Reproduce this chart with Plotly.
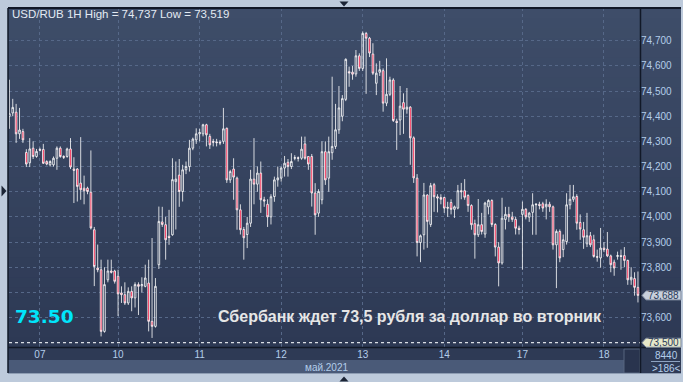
import plotly.graph_objects as go

W, H = 683, 382

# ---------------- data (USD/RUB, 1H candles) ----------------
opens = [74.40, 74.413, 74.416, 74.33, 74.339, 74.256, 74.215, 74.273, 74.24, 74.268,
         74.268, 74.22, 74.207, 74.207, 74.233, 74.273, 74.240, 74.24, 74.27, 74.19,
         74.19, 74.134, 74.114, 74.114, 74.098, 73.949, 73.797, 73.790, 73.545, 73.75,
         73.785, 73.785, 73.764, 73.698, 73.691, 73.658, 73.704, 73.678, 73.731, 73.726,
         73.724, 73.737, 73.585, 73.565, 73.810, 73.98, 73.969, 73.923, 73.929, 74.14,
         74.166, 74.101, 74.187, 74.20, 74.273, 74.306, 74.33, 74.33, 74.366, 74.32,
         74.30, 74.298, 74.296, 74.30, 74.352, 74.147, 74.19, 74.154, 74.028, 73.95,
         73.93, 73.975, 74.15, 74.13, 74.174, 74.068, 74.05, 74.0, 74.081, 74.147,
         74.154, 74.194, 74.217, 74.2, 74.233, 74.235, 74.233, 74.29, 74.24, 74.24,
         74.095, 74.015, 74.068, 74.259, 74.154, 74.255, 74.28, 74.346, 74.40, 74.467,
         74.577, 74.575, 74.568, 74.64, 74.59, 74.729, 74.71, 74.647, 74.531, 74.575,
         74.581, 74.452, 74.487, 74.544, 74.38, 74.385, 74.454, 74.428, 74.436, 74.314,
         74.154, 73.898, 73.929, 74.087, 73.97, 74.128, 74.08, 74.077, 74.077, 74.038,
         74.057, 74.03, 74.035, 74.104, 74.104, 74.085, 74.045, 73.973, 73.929, 73.969,
         73.932, 74.04, 74.065, 73.97, 73.88, 73.817, 73.99, 74.01, 74.0, 73.99,
         73.955, 74.01, 74.03, 73.999, 74.018, 74.048, 74.05, 74.052, 74.04, 74.05,
         74.04, 73.889, 73.942, 73.87, 73.902, 74.048, 74.07, 74.081, 73.978, 73.949,
         73.893, 73.925, 73.909, 73.842, 73.837, 73.876, 73.872, 73.845, 73.82, 73.843,
         73.846, 73.846, 73.827, 73.75, 73.755, 73.72]
highs = [74.545, 74.469, 74.449, 74.433, 74.35, 74.269, 74.313, 74.30, 74.27, 74.275,
         74.29, 74.225, 74.225, 74.24, 74.28, 74.28, 74.245, 74.275, 74.313, 74.237,
         74.194, 74.317, 74.164, 74.12, 74.264, 73.96, 73.89, 73.83, 73.80, 73.83,
         73.83, 73.79, 73.79, 73.724, 73.74, 73.72, 73.724, 73.74, 73.74, 73.76,
         73.81, 73.83, 73.916, 73.757, 74.041, 74.04, 74.0, 74.028, 74.233, 74.22,
         74.23, 74.207, 74.22, 74.306, 74.315, 74.352, 74.35, 74.37, 74.37, 74.33,
         74.31, 74.31, 74.305, 74.433, 74.355, 74.187, 74.233, 74.16, 74.05, 73.96,
         74.0, 74.187, 74.313, 74.2, 74.22, 74.08, 74.07, 74.09, 74.16, 74.2,
         74.2, 74.242, 74.23, 74.253, 74.245, 74.24, 74.319, 74.319, 74.24, 74.25,
         74.134, 74.11, 74.30, 74.3, 74.319, 74.557, 74.449, 74.52, 74.484, 74.63,
         74.597, 74.6, 74.663, 74.65, 74.737, 74.735, 74.715, 74.69, 74.61, 74.62,
         74.59, 74.63, 74.557, 74.551, 74.39, 74.52, 74.491, 74.512, 74.44, 74.32,
         74.17, 73.93, 74.135, 74.09, 74.135, 74.135, 74.09, 74.09, 74.08, 74.06,
         74.07, 74.045, 74.127, 74.135, 74.15, 74.09, 74.05, 73.989, 74.071, 74.016,
         74.06, 74.07, 74.07, 73.975, 73.9, 74.076, 74.04, 74.04, 74.02, 74.0,
         73.965, 74.061, 74.035, 74.02, 74.094, 74.055, 74.06, 74.06, 74.07, 74.06,
         74.045, 73.95, 73.95, 73.93, 74.094, 74.127, 74.127, 74.09, 74.01, 73.98,
         74.016, 73.94, 73.929, 73.87, 73.956, 73.9, 73.94, 73.85, 73.83, 73.862,
         73.87, 73.88, 73.83, 73.8, 73.78, 73.783]
lows = [74.35, 74.40, 74.294, 74.31, 74.294, 74.198, 74.198, 74.23, 74.235, 74.26,
        74.21, 74.205, 74.20, 74.20, 74.187, 74.235, 74.23, 74.235, 74.19, 74.055,
        74.061, 74.068, 74.05, 74.09, 73.95, 73.725, 73.78, 73.525, 73.54, 73.74,
        73.775, 73.735, 73.606, 73.658, 73.65, 73.65, 73.625, 73.64, 73.61, 73.70,
        73.72, 73.545, 73.519, 73.56, 73.793, 73.96, 73.83, 73.889, 73.925, 73.95,
        74.04, 74.061, 74.17, 74.18, 74.265, 74.29, 74.30, 74.32, 74.28, 74.27,
        74.28, 74.28, 74.285, 74.29, 74.135, 74.135, 74.068, 73.949, 73.93, 73.83,
        73.876, 73.96, 74.05, 74.1, 74.016, 74.04, 73.96, 73.97, 74.06, 74.12,
        74.14, 74.16, 74.16, 74.19, 74.225, 74.22, 74.227, 74.227, 74.187, 74.041,
        73.929, 74.0, 74.05, 74.127, 74.1, 74.227, 74.27, 74.33, 74.38, 74.46,
        74.517, 74.545, 74.557, 74.58, 74.58, 74.489, 74.635, 74.564, 74.484, 74.56,
        74.418, 74.44, 74.48, 74.377, 74.266, 74.325, 74.33, 74.41, 74.207, 74.135,
        73.843, 73.82, 73.87, 73.877, 73.96, 74.02, 74.018, 74.05, 74.016, 74.0,
        74.01, 73.996, 74.03, 74.07, 74.068, 74.02, 73.949, 73.834, 73.92, 73.93,
        73.917, 74.01, 73.96, 73.843, 73.724, 73.81, 73.95, 73.98, 73.98, 73.93,
        73.93, 73.79, 73.99, 73.98, 73.929, 73.929, 74.03, 74.02, 73.99, 74.02,
        73.87, 73.717, 73.82, 73.84, 73.89, 74.03, 74.06, 73.949, 73.909, 73.873,
        73.88, 73.88, 73.838, 73.822, 73.798, 73.86, 73.84, 73.78, 73.766, 73.83,
        73.79, 73.8, 73.73, 73.73, 73.687, 73.66]
closes = [74.41, 74.435, 74.33, 74.345, 74.306, 74.210, 74.27, 74.240, 74.26, 74.265,
          74.213, 74.21, 74.22, 74.233, 74.273, 74.240, 74.237, 74.27, 74.198, 74.185,
          74.121, 74.108, 74.104, 74.101, 73.956, 73.803, 73.79, 73.545, 73.731, 73.785,
          73.78, 73.744, 73.694, 73.691, 73.658, 73.704, 73.678, 73.731, 73.724, 73.731,
          73.757, 73.585, 73.565, 73.724, 73.982, 73.97, 73.909, 73.918, 74.148, 74.15,
          74.101, 74.187, 74.20, 74.273, 74.309, 74.33, 74.335, 74.366, 74.326, 74.286,
          74.297, 74.295, 74.294, 74.35, 74.147, 74.18, 74.158, 74.028, 73.949, 73.917,
          73.975, 74.15, 74.13, 74.174, 74.068, 74.063, 74.0, 74.08, 74.147, 74.155,
          74.194, 74.213, 74.2, 74.22, 74.235, 74.233, 74.269, 74.233, 74.21, 74.095,
          74.008, 74.101, 74.259, 74.147, 74.259, 74.28, 74.346, 74.433, 74.47, 74.626,
          74.572, 74.567, 74.64, 74.59, 74.729, 74.71, 74.651, 74.571, 74.571, 74.585,
          74.452, 74.487, 74.544, 74.383, 74.375, 74.44, 74.428, 74.436, 74.314, 74.155,
          73.898, 73.925, 74.087, 73.982, 74.124, 74.08, 74.075, 74.07, 74.035, 74.035,
          74.03, 74.04, 74.104, 74.1, 74.078, 74.045, 73.969, 73.929, 73.969, 73.942,
          74.055, 74.065, 73.97, 73.88, 73.817, 73.995, 74.01, 74.0, 73.99, 73.955,
          73.95, 74.03, 74.0, 74.015, 74.048, 74.05, 74.045, 74.035, 74.05, 74.04,
          73.889, 73.942, 73.837, 73.909, 74.048, 74.07, 74.08, 73.975, 73.952, 73.919,
          73.925, 73.889, 73.843, 73.84, 73.876, 73.87, 73.845, 73.81, 73.797, 73.846,
          73.843, 73.827, 73.75, 73.76, 73.72, 73.688]

day_labels = ["07", "10", "11", "12", "13", "14", "17", "18"]
day_start_index = [9, 32, 56, 80, 104, 128, 151, 175]
price_ticks = [73.5, 73.6, 73.7, 73.8, 73.9, 74.0, 74.1, 74.2, 74.3, 74.4, 74.5, 74.6, 74.7]
price_labels = ["", "73,600", "", "73,800", "73,900", "74,000", "74,100", "74,200",
                "74,300", "74,400", "74,500", "74,600", "74,700"]
last_price = 73.688
target_price = 73.5
title_text = "USD/RUB 1H High = 74,737 Low = 73,519"
headline = "Сбербанк ждет 73,5 рубля за доллар во вторник"
big_value = "73.50"
month_label = "май.2021"

# ---------------- helpers (pixel -> paper) ----------------
def fx(x):
    return x / W

def fy(y):
    return 1 - y / H

idx = list(range(len(opens)))
highs = [max(h, o, c) for h, o, c in zip(highs, opens, closes)]
lows = [min(l, o, c) for l, o, c in zip(lows, opens, closes)]

fig = go.Figure()
fig.add_trace(go.Candlestick(
    x=idx, open=opens, high=highs, low=lows, close=closes,
    increasing=dict(line=dict(color="#ffffff", width=0.8), fillcolor="rgba(0,0,0,0)"),
    decreasing=dict(line=dict(color="#ffffff", width=0.8), fillcolor="#f2103c"),
    whiskerwidth=0, hoverinfo="skip", showlegend=False,
))

shapes = []
# dark panel
shapes.append(dict(type="rect", xref="paper", yref="paper", x0=fx(8), x1=fx(681),
                   y0=fy(373), y1=fy(8), fillcolor="#2e3a55", line=dict(width=0), layer="below"))
# vertical gradient of chart background
top_c = (62, 77, 105)
bot_c = (45, 57, 84)
nb = 34
for k in range(nb):
    t = (k + 0.5) / nb
    c = tuple(int(round(top_c[j] + (bot_c[j] - top_c[j]) * t)) for j in range(3))
    y0 = 8 + (347 - 8) * k / nb
    y1 = 8 + (347 - 8) * (k + 1) / nb
    shapes.append(dict(type="rect", xref="paper", yref="paper", x0=fx(8), x1=fx(681),
                       y0=fy(y1 + 0.6), y1=fy(y0), fillcolor="rgb(%d,%d,%d)" % c,
                       line=dict(width=0), layer="below"))
# lighter band under the x tick labels
shapes.append(dict(type="rect", xref="paper", yref="paper", x0=fx(8), x1=fx(640),
                   y0=fy(373), y1=fy(360), fillcolor="#4a5a78", line=dict(width=0), layer="below"))
# scroll-box at right end of x axis
shapes.append(dict(type="rect", xref="paper", yref="paper", x0=fx(624), x1=fx(640),
                   y0=fy(373), y1=fy(349), fillcolor="#29344e", line=dict(color="#56657f", width=1),
                   layer="below"))
# dotted white level line at 73.5
shapes.append(dict(type="line", xref="paper", yref="y", x0=fx(9), x1=fx(640),
                   y0=target_price, y1=target_price, line=dict(color="#ffffff", width=1, dash="dot"),
                   layer="above"))
# borders
border = "#111827"
shapes += [
    dict(type="line", xref="paper", yref="paper", x0=fx(8), x1=fx(681), y0=fy(8), y1=fy(8),
         line=dict(color=border, width=2)),
    dict(type="line", xref="paper", yref="paper", x0=fx(8), x1=fx(8), y0=fy(8), y1=fy(373),
         line=dict(color=border, width=1.5)),
    dict(type="line", xref="paper", yref="paper", x0=fx(640.5), x1=fx(640.5), y0=fy(8), y1=fy(373),
         line=dict(color=border, width=1.5)),
    dict(type="line", xref="paper", yref="paper", x0=fx(8), x1=fx(681), y0=fy(347.5), y1=fy(347.5),
         line=dict(color=border, width=1.5)),
    dict(type="line", xref="paper", yref="paper", x0=fx(8), x1=fx(681), y0=fy(373.5), y1=fy(373.5),
         line=dict(color="#8e9db3", width=1)),
    dict(type="line", xref="paper", yref="paper", x0=fx(651), x1=fx(680), y0=fy(361.5), y1=fy(361.5),
         line=dict(color="#8ea3c2", width=1)),
]
# frame triangles
def tri(pts, color="#1b2435"):
    p = "M " + " L ".join("%.5f,%.5f" % (fx(a), fy(b)) for a, b in pts) + " Z"
    return dict(type="path", xref="paper", yref="paper", path=p, fillcolor=color, line=dict(width=0))

shapes.append(tri([(339.5, 1.5), (348.5, 1.5), (344, 6.5)]))
shapes.append(tri([(339.5, 381.5), (348.5, 381.5), (344, 376.5)]))
shapes.append(tri([(1.5, 185.5), (1.5, 196.5), (6.5, 191)]))

# price tags on the right axis
def ypix(v):
    lo, hi = 73.483, 74.830
    return 347 - (v - lo) / (hi - lo) * (347 - 8)

def tag(v, color):
    yc = ypix(v)
    pts = [(646, yc - 4.5), (681, yc - 4.5), (681, yc + 4.5), (646, yc + 4.5), (642, yc)]
    p = "M " + " L ".join("%.5f,%.5f" % (fx(a), fy(b)) for a, b in pts) + " Z"
    return dict(type="path", xref="paper", yref="paper", path=p, fillcolor=color,
                line=dict(color="#7f8ba0", width=1), layer="above")

shapes.append(tag(last_price, "#c8d0db"))
shapes.append(tag(target_price, "#e7e8c9"))

tick_col = "#b3cdea"
ann = []
ann.append(dict(text=title_text, x=fx(10), y=fy(14), xref="paper", yref="paper", xanchor="left",
                yanchor="middle", showarrow=False,
                font=dict(family="Liberation Sans Narrow, Liberation Sans, Arial", size=11.5,
                          color="#e3eaf3")))
ann.append(dict(text="<b>%s</b>" % big_value, x=fx(13), y=fy(316.5), xref="paper", yref="paper",
                xanchor="left", yanchor="middle", showarrow=False,
                font=dict(family="DejaVu Sans, Verdana", size=18.5, color="#00e5fb")))
ann.append(dict(text="<b>%s</b>" % headline, x=fx(216), y=fy(316.5), xref="paper", yref="paper",
                xanchor="left", yanchor="middle", showarrow=False,
                font=dict(family="Liberation Sans, Arial", size=16, color="#e6e6e6")))
ann.append(dict(text="73,688", x=fx(646), y=fy(ypix(last_price)), xref="paper", yref="paper",
                xanchor="left", yanchor="middle", showarrow=False,
                font=dict(family="Liberation Sans, Arial", size=10, color="#2a3b5a")))
ann.append(dict(text="73,500", x=fx(646), y=fy(ypix(target_price)), xref="paper", yref="paper",
                xanchor="left", yanchor="middle", showarrow=False,
                font=dict(family="Liberation Sans, Arial", size=10, color="#2a3b5a")))
ann.append(dict(text=month_label, x=fx(326), y=fy(367), xref="paper", yref="paper",
                xanchor="center", yanchor="middle", showarrow=False,
                font=dict(family="Liberation Sans, Arial", size=10, color=tick_col)))
ann.append(dict(text="8440", x=fx(666), y=fy(355), xref="paper", yref="paper",
                xanchor="center", yanchor="middle", showarrow=False,
                font=dict(family="Liberation Sans, Arial", size=10, color=tick_col)))
ann.append(dict(text="&gt;186&lt;", x=fx(666), y=fy(368), xref="paper", yref="paper",
                xanchor="center", yanchor="middle", showarrow=False,
                font=dict(family="Liberation Sans, Arial", size=10, color=tick_col)))

grid_col = "#566888"
fig.update_layout(
    width=W, height=H, margin=dict(l=0, r=0, t=0, b=0),
    paper_bgcolor="#bdcadb", plot_bgcolor="rgba(0,0,0,0)",
    boxgap=0.3,
    shapes=shapes, annotations=ann, showlegend=False,
    xaxis=dict(domain=[fx(9), fx(640)], range=[-0.1, 185.6], rangeslider=dict(visible=False),
               tickmode="array", tickvals=day_start_index, ticktext=day_labels,
               showgrid=True, gridcolor=grid_col, griddash="3px,3px", gridwidth=1,
               zeroline=False, showline=False, ticks="",
               tickfont=dict(family="Liberation Sans, Arial", size=10, color=tick_col)),
    yaxis=dict(domain=[fy(347), fy(8)], range=[73.483, 74.830], side="right",
               tickmode="array", tickvals=price_ticks, ticktext=price_labels,
               showgrid=True, gridcolor=grid_col, griddash="3px,3px", gridwidth=1,
               zeroline=False, showline=False, ticks="",
               tickfont=dict(family="Liberation Sans, Arial", size=10, color=tick_col)),
)

fig.write_html("out.html")
